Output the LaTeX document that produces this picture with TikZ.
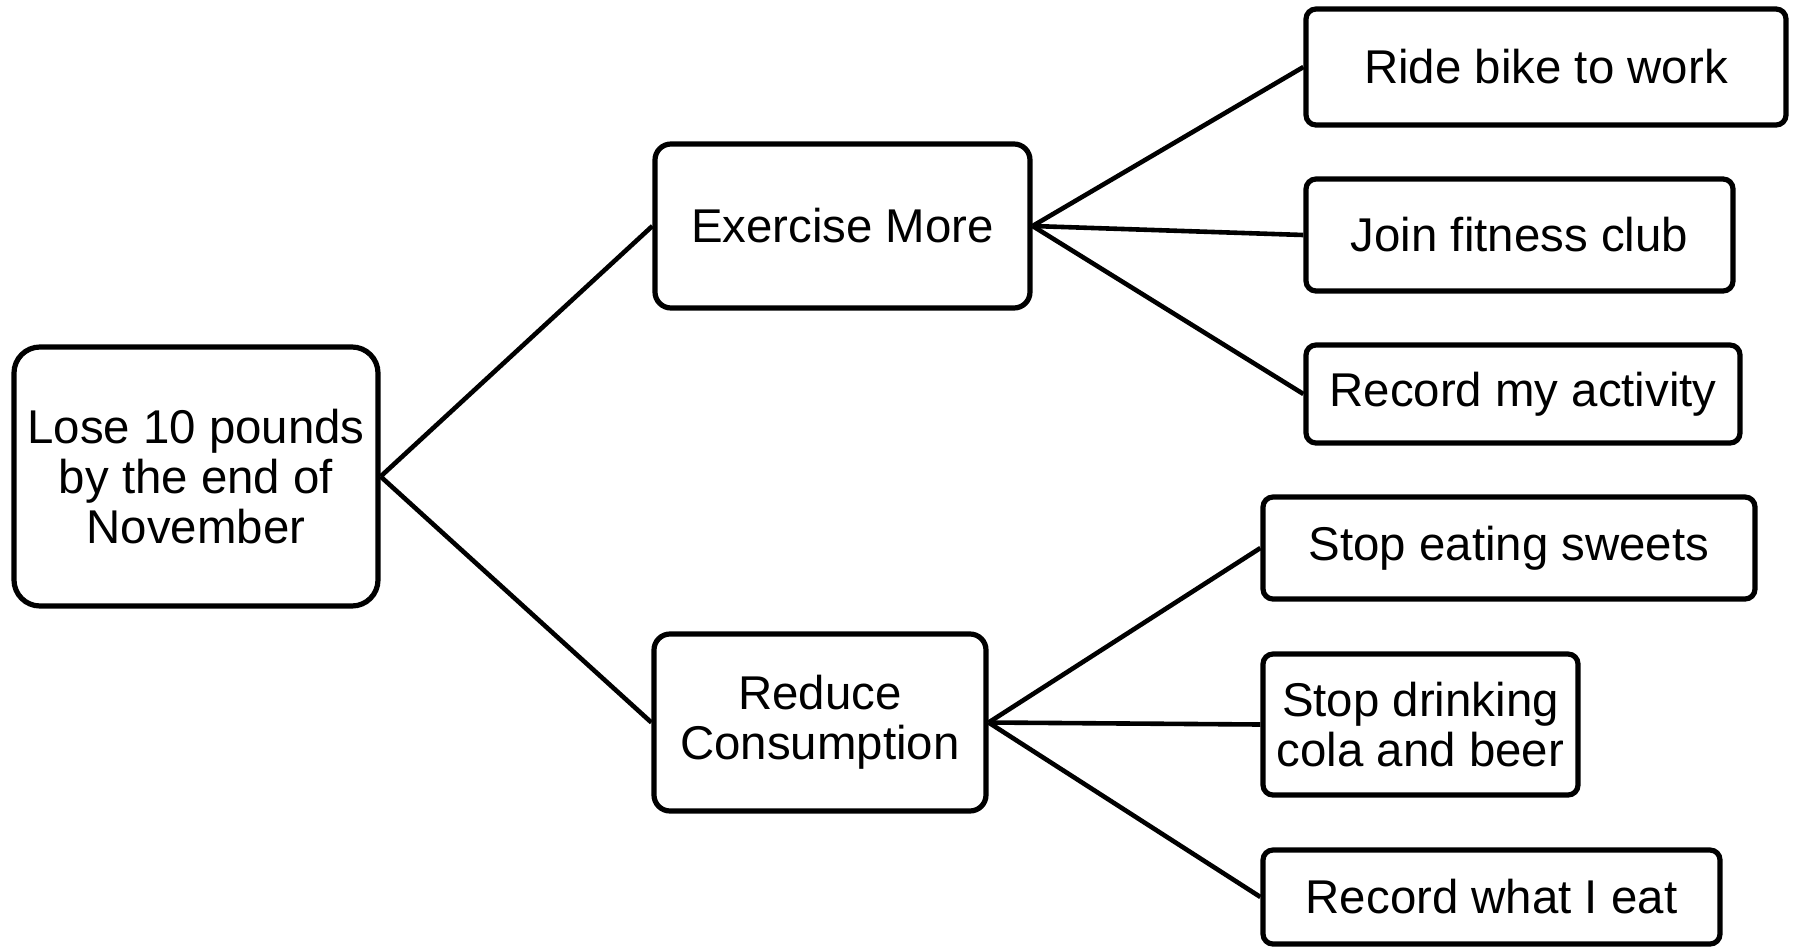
\documentclass[tikz,border=0pt]{standalone}
\usepackage{fontspec}
\setmainfont{Liberation Sans}
\begin{document}
\begin{tikzpicture}[x=0.5pt,y=-0.5pt,
  box/.style={draw=black, line width=2.6pt, fill=white, align=center,
    inner sep=0pt, font=\fontsize{23.7}{25}\selectfont},
  link/.style={draw=black, line width=2.3pt}]
\useasboundingbox (0,0) rectangle (1794,948);

% goal
\node[box, minimum width=182pt, minimum height=129.5pt, rounded corners=13pt]
  (goal) at (196,476.5) {Lose 10 pounds\\by the end of\\November};

% sub-goals
\node[box, minimum width=187.5pt, minimum height=82pt, rounded corners=8pt]
  (exercise) at (842.5,226) {Exercise More};
\node[box, minimum width=166pt, minimum height=88.5pt, rounded corners=8pt]
  (reduce) at (820,722.5) {Reduce\\Consumption};

% actions
\node[box, minimum width=240pt, minimum height=58pt, rounded corners=5pt]
  (bike) at (1546,67) {Ride bike to work};
\node[box, minimum width=213.5pt, minimum height=56pt, rounded corners=5pt]
  (club) at (1519.5,235) {Join fitness club};
\node[box, minimum width=217pt, minimum height=49pt, rounded corners=5pt]
  (activity) at (1523,394) {Record my activity};
\node[box, minimum width=246pt, minimum height=51pt, rounded corners=5pt]
  (sweets) at (1509,548) {Stop eating sweets};
\node[box, minimum width=157.5pt, minimum height=70.5pt, rounded corners=5pt]
  (cola) at (1420.5,724.5) {Stop drinking\\cola and beer};
\node[box, minimum width=228.5pt, minimum height=47pt, rounded corners=5pt]
  (eat) at (1491.5,897) {Record what I eat};

% connectors
\draw[link] (goal.east) -- (exercise.west);
\draw[link] (goal.east) -- (reduce.west);
\draw[link] (exercise.east) -- (bike.west);
\draw[link] (exercise.east) -- (club.west);
\draw[link] (exercise.east) -- (activity.west);
\draw[link] (reduce.east) -- (sweets.west);
\draw[link] (reduce.east) -- (cola.west);
\draw[link] (reduce.east) -- (eat.west);
\end{tikzpicture}
\end{document}
